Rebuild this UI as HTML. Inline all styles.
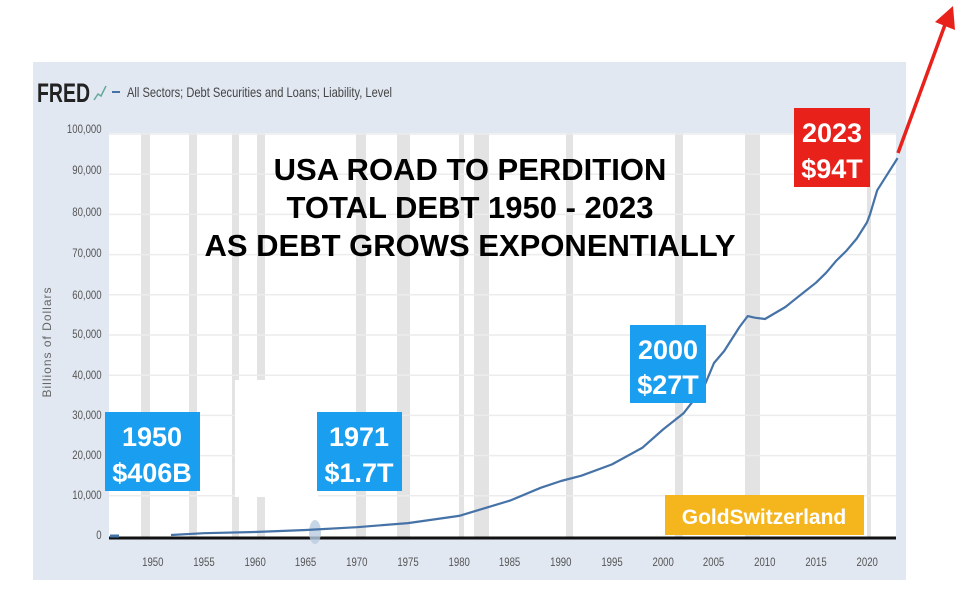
<!DOCTYPE html>
<html><head><meta charset="utf-8"><style>
body{margin:0;background:#fff;width:975px;height:608px;overflow:hidden}
svg{display:block}
</style></head><body>
<svg width="975" height="608" xmlns="http://www.w3.org/2000/svg" font-family="Liberation Sans, sans-serif">
<rect x="33" y="62" width="873" height="518" fill="#e1e8f2"/>
<rect x="109" y="133" width="787" height="405" fill="#fff"/>
<g fill="#e3e3e3">
<rect x="141" y="133" width="9" height="405"/>
<rect x="189" y="133" width="8" height="405"/>
<rect x="232" y="133" width="7" height="405"/>
<rect x="257" y="133" width="8" height="405"/>
<rect x="356" y="133" width="10" height="405"/>
<rect x="397" y="133" width="13" height="405"/>
<rect x="459" y="133" width="5" height="405"/>
<rect x="474" y="133" width="15" height="405"/>
<rect x="566" y="133" width="7" height="405"/>
<rect x="675" y="133" width="8" height="405"/>
<rect x="745" y="133" width="15" height="405"/>
<rect x="867" y="133" width="4" height="405"/>
</g>
<g stroke="#ececec" stroke-width="1.5">
<line x1="109" y1="134" x2="896" y2="134"/>
<line x1="109" y1="174.2" x2="896" y2="174.2"/>
<line x1="109" y1="214.4" x2="896" y2="214.4"/>
<line x1="109" y1="254.6" x2="896" y2="254.6"/>
<line x1="109" y1="294.8" x2="896" y2="294.8"/>
<line x1="109" y1="335" x2="896" y2="335"/>
<line x1="109" y1="375.2" x2="896" y2="375.2"/>
<line x1="109" y1="415.4" x2="896" y2="415.4"/>
<line x1="109" y1="455.6" x2="896" y2="455.6"/>
<line x1="109" y1="495.8" x2="896" y2="495.8"/>
</g>
<rect x="235" y="380" width="83" height="117" fill="#fff"/>
<line x1="109" y1="538" x2="896" y2="538" stroke="#111" stroke-width="3"/>
<g fill="#555" font-size="12" text-anchor="end" transform="scale(0.8,1)">
<text x="127" y="133">100,000</text>
<text x="127" y="174">90,000</text>
<text x="127" y="216">80,000</text>
<text x="127" y="257">70,000</text>
<text x="127" y="299">60,000</text>
<text x="127" y="338">50,000</text>
<text x="127" y="379">40,000</text>
<text x="127" y="419">30,000</text>
<text x="127" y="459">20,000</text>
<text x="127" y="499">10,000</text>
<text x="127" y="539">0</text>
</g>
<g fill="#555" font-size="12" text-anchor="middle" transform="scale(0.8,1)">
<text x="191" y="566">1950</text><text x="255" y="566">1955</text><text x="319" y="566">1960</text>
<text x="382" y="566">1965</text><text x="446" y="566">1970</text><text x="510" y="566">1975</text>
<text x="574" y="566">1980</text><text x="637" y="566">1985</text><text x="701" y="566">1990</text>
<text x="765" y="566">1995</text><text x="829" y="566">2000</text><text x="892" y="566">2005</text>
<text x="956" y="566">2010</text><text x="1020" y="566">2015</text><text x="1084" y="566">2020</text>
</g>
<text transform="translate(51,342) rotate(-90)" text-anchor="middle" font-size="12" fill="#666" letter-spacing="1">Billions of Dollars</text>
<text x="37" y="102" font-size="27" font-weight="bold" fill="#222" textLength="53" lengthAdjust="spacingAndGlyphs">FRED</text>
<path d="M94 100 L98 94 L101 96 L106 86" stroke="#6a9" stroke-width="1.5" fill="none"/>
<line x1="112" y1="92" x2="120" y2="92" stroke="#4572a7" stroke-width="2"/>
<text x="127" y="97" font-size="14" fill="#444" textLength="265" lengthAdjust="spacingAndGlyphs">All Sectors; Debt Securities and Loans; Liability, Level</text>
<ellipse cx="315" cy="532" rx="6" ry="12" fill="#b8cce0" opacity="0.8"/>
<line x1="110" y1="536" x2="119" y2="536" stroke="#4572a7" stroke-width="3"/>
<polyline fill="none" stroke="#4572a7" stroke-width="2.2" stroke-linejoin="round" points="171,535 204,533.2 255,532 306,530 357,527.2 408,523.1 459,515.9 510,500.6 540.6,487.8 561,481 581.4,475.7 612,464.4 642.6,447.6 663,429.5 683.4,413.4 703.8,387.3 714,363 724.2,351 739.5,327 747.7,316.1 754.8,317.7 765,319 775.2,313 785.4,307 795.6,298.8 805.8,290.8 816,282.7 826.2,272.7 836.4,260.6 846.6,250.6 856.8,238.5 867,222.4 870,214.4 877.2,190.3 887.4,174.2 897.6,158.1"/>
<line x1="898" y1="153" x2="946" y2="22" stroke="#e8211b" stroke-width="3.5"/>
<polygon points="953,6 955,30 935,22" fill="#e8211b"/>
<g font-weight="bold" text-anchor="middle" fill="#000" font-size="31">
<text x="470" y="180">USA ROAD TO PERDITION</text>
<text x="470" y="218">TOTAL DEBT 1950 - 2023</text>
<text x="470" y="256">AS DEBT GROWS EXPONENTIALLY</text>
</g>
<g font-weight="bold" text-anchor="middle" fill="#fff" font-size="27">
<rect x="105" y="412" width="95" height="79" fill="#1a9ff0"/>
<text x="152" y="446">1950</text><text x="152" y="482">$406B</text>
<rect x="317" y="412" width="85" height="79" fill="#1a9ff0"/>
<text x="359" y="446">1971</text><text x="359" y="482">$1.7T</text>
<rect x="630" y="325" width="76" height="78" fill="#1a9ff0"/>
<text x="668" y="359">2000</text><text x="668" y="394">$27T</text>
<rect x="794" y="108" width="76" height="79" fill="#e8211b"/>
<text x="832" y="142">2023</text><text x="832" y="178">$94T</text>
<rect x="665" y="495" width="199" height="40" fill="#f5b51c"/>
<text x="764" y="524" font-size="21">GoldSwitzerland</text>
</g>
</svg>
</body></html>
